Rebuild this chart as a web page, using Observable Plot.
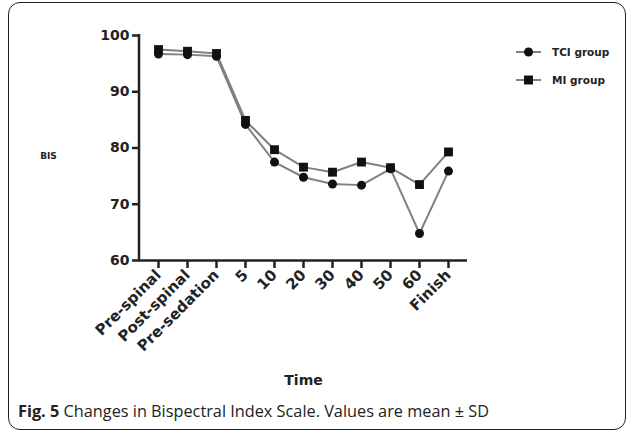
<!DOCTYPE html>
<html>
<head>
<meta charset="utf-8">
<script src="https://cdn.jsdelivr.net/npm/d3@7"></script>
<script src="https://cdn.jsdelivr.net/npm/@observablehq/plot@0.6"></script>
<style>
  html, body { margin: 0; padding: 0; background: #fff; }
  #wrap { position: relative; width: 634px; height: 434px; overflow: hidden; }
  #border { position: absolute; left: 8px; top: 2px; width: 616px; height: 426px; border: 1.5px solid #222; border-radius: 12px; }
  #chart { position: absolute; left: 0; top: 0; }
  #legend { position: absolute; left: 516px; top: 42px; font-family: "DejaVu Sans", sans-serif; font-weight: bold; font-size: 10.5px; color: #222; }
  #legend .row { display: flex; align-items: center; height: 20px; margin-bottom: 8px; }
  #legend svg { margin-right: 11px; }
  #caption { position: absolute; left: 18px; top: 400px; font-family: "Open Sans", sans-serif; font-size: 16.3px; color: #222; }
</style>
</head>
<body>
<div id="wrap">
  <div id="border"></div>
  <div id="chart"></div>
  <div id="legend"></div>
  <div id="caption"><b>Fig. 5</b> Changes in Bispectral Index Scale. Values are mean ± SD</div>
</div>
<script>
const times = ["Pre-spinal", "Post-spinal", "Pre-sedation", "5", "10", "20", "30", "40", "50", "60", "Finish"];
const tciValues = [96.7, 96.6, 96.3, 84.2, 77.5, 74.8, 73.6, 73.4, 76.3, 64.8, 75.9];
const miValues = [97.5, 97.2, 96.8, 84.9, 79.7, 76.6, 75.7, 77.5, 76.5, 73.5, 79.3];
const yTicks = [60, 70, 80, 90, 100];
const seriesNames = ["TCI group", "MI group"];

const tci = times.map((t, i) => ({time: t, value: tciValues[i]}));
const mi = times.map((t, i) => ({time: t, value: miValues[i]}));

const yAxisLine = (index, scales, values, dimensions) => {
  const {marginLeft, height, marginBottom} = dimensions;
  const line = document.createElementNS("http://www.w3.org/2000/svg", "line");
  line.setAttribute("x1", marginLeft);
  line.setAttribute("x2", marginLeft);
  line.setAttribute("y1", scales.y(100) - 1);
  line.setAttribute("y2", height - marginBottom + 1);
  line.setAttribute("stroke", "#222");
  line.setAttribute("stroke-width", 2.5);
  return line;
};

const chart = Plot.plot({
  width: 634,
  height: 395,
  marginLeft: 139,
  marginRight: 167,
  marginTop: 35,
  marginBottom: 135,
  style: {fontFamily: "DejaVu Sans, sans-serif", fontWeight: "bold", color: "#222", background: "transparent"},
  x: {type: "point", domain: times, padding: 0.5},
  y: {domain: [60, 100]},
  marks: [
    Plot.axisY({ticks: yTicks, tickSize: 7, tickPadding: 3, strokeWidth: 2.5, fontSize: 14, label: null}),
    Plot.axisX({tickSize: 8, tickPadding: 4, tickRotate: -45, strokeWidth: 2.5, fontSize: 15, label: null}),
    Plot.ruleY([60], {stroke: "#222", strokeWidth: 2.5}),
    yAxisLine,
    Plot.line(tci, {x: "time", y: "value", stroke: "#808080", strokeWidth: 2}),
    Plot.line(mi, {x: "time", y: "value", stroke: "#808080", strokeWidth: 2}),
    Plot.dot(tci, {x: "time", y: "value", symbol: "circle", r: 4.5, fill: "#111", stroke: "none"}),
    Plot.dot(mi, {x: "time", y: "value", symbol: "square", r: 5, fill: "#111", stroke: "none"}),
    Plot.text(["Time"], {frameAnchor: "bottom", dy: 124, fontSize: 14, fontWeight: "bold", fill: "#222"}),
    Plot.text(["BIS"], {frameAnchor: "left", textAnchor: "middle", dx: -91, dy: 8, fontSize: 9, fontWeight: "bold", fill: "#222"})
  ]
});
document.getElementById("chart").appendChild(chart);

// legend
const legend = document.getElementById("legend");
const symbols = [d3.symbolCircle, d3.symbolSquare];
const sizes = [64, 80];
seriesNames.forEach((name, i) => {
  const row = document.createElement("div");
  row.className = "row";
  const svg = d3.create("svg").attr("width", 25).attr("height", 14);
  svg.append("line").attr("x1", 0).attr("x2", 25).attr("y1", 7).attr("y2", 7).attr("stroke", "#808080").attr("stroke-width", 2);
  svg.append("path").attr("d", d3.symbol(symbols[i], sizes[i])()).attr("transform", "translate(12.5,7)").attr("fill", "#111");
  row.appendChild(svg.node());
  const span = document.createElement("span");
  span.textContent = name;
  row.appendChild(span);
  legend.appendChild(row);
});
</script>
</body>
</html>
